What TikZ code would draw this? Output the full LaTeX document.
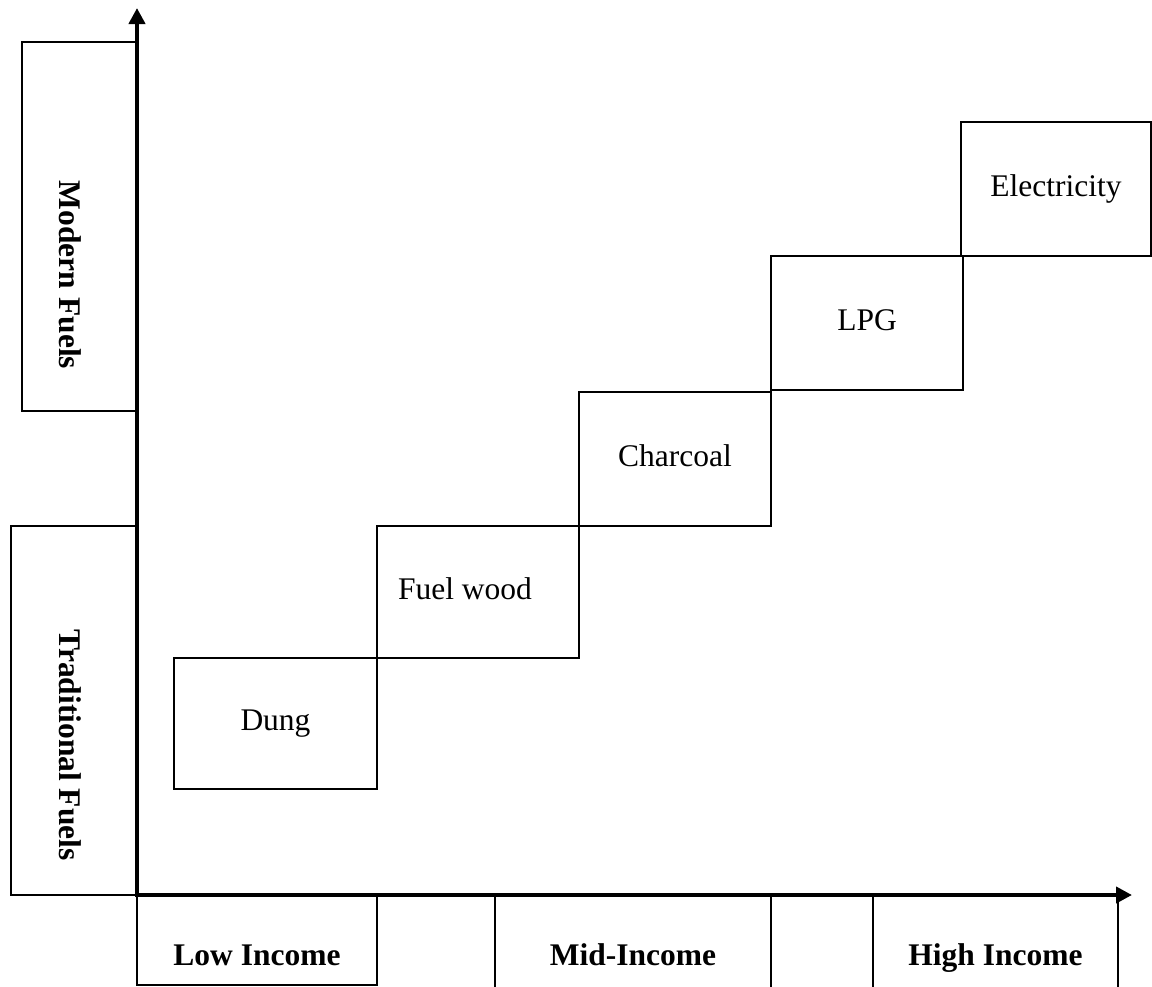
\documentclass[tikz,border=0pt]{standalone}
\usepackage{fontspec}
\setmainfont{Liberation Serif}
\usetikzlibrary{arrows.meta}
\begin{document}
\begin{tikzpicture}[x=1pt,y=-1pt,
  every node/.style={font=\fontsize{31.5}{36}\selectfont},
  fuelbox/.style={draw, line width=2pt, inner sep=0pt, text height=22pt, text depth=8pt},
  sidebox/.style={draw, line width=2pt, inner sep=0pt},
  sidelabel/.style={rotate=-90, anchor=base, inner sep=0pt, font=\fontsize{31.5}{36}\selectfont\bfseries},
  incomebox/.style={draw, line width=2pt, anchor=north, inner sep=0pt, text height=69pt,
    font=\fontsize{31.5}{36}\selectfont\bfseries},
  axisline/.style={line width=4.5pt, -{Triangle[length=16pt,width=16pt]}}
]
\useasboundingbox (0,0) rectangle (1152,986);
\clip (0,0) rectangle (1152,986);

% fuel boxes (staircase)
\node[fuelbox, minimum width=203pt, minimum height=131pt] (dung) at (275.5,723.5) {Dung};
\node[fuelbox, minimum width=202pt, minimum height=132pt] (wood) at (478,592) {\hspace*{-26pt}Fuel wood};
\node[fuelbox, minimum width=192pt, minimum height=134pt] (charcoal) at (675,459) {Charcoal};
\node[fuelbox, minimum width=192pt, minimum height=134pt] (lpg) at (867,323) {LPG};
\node[fuelbox, minimum width=190pt, minimum height=134pt] (elec) at (1056,189) {Electricity};

% side category boxes
\node[sidebox, minimum width=115pt, minimum height=369pt] (modern) at (79.5,226.5) {};
\node[sidelabel] (modernlbl) at (59,275) {Modern Fuels};
\node[sidebox, minimum width=126pt, minimum height=369pt] (trad) at (74,710.5) {};
\node[sidelabel] (tradlbl) at (59,745) {Traditional Fuels};

% income boxes
\node[incomebox, minimum width=240pt, text depth=20pt] (low) at (257,895) {Low Income};
\node[incomebox, minimum width=276pt, text depth=70pt] (mid) at (633,895) {Mid-Income};
\node[incomebox, minimum width=245pt, text depth=70pt] (high) at (995.5,895) {High Income};

% axes
\coordinate (O) at (137,895);
\coordinate (ytip) at (137,8);
\coordinate (xtip) at (1132,895);
\draw[axisline] ([yshift=2.25pt]O) -- (ytip);
\draw[axisline] ([xshift=-2.25pt]O) -- (xtip);
\end{tikzpicture}
\end{document}
